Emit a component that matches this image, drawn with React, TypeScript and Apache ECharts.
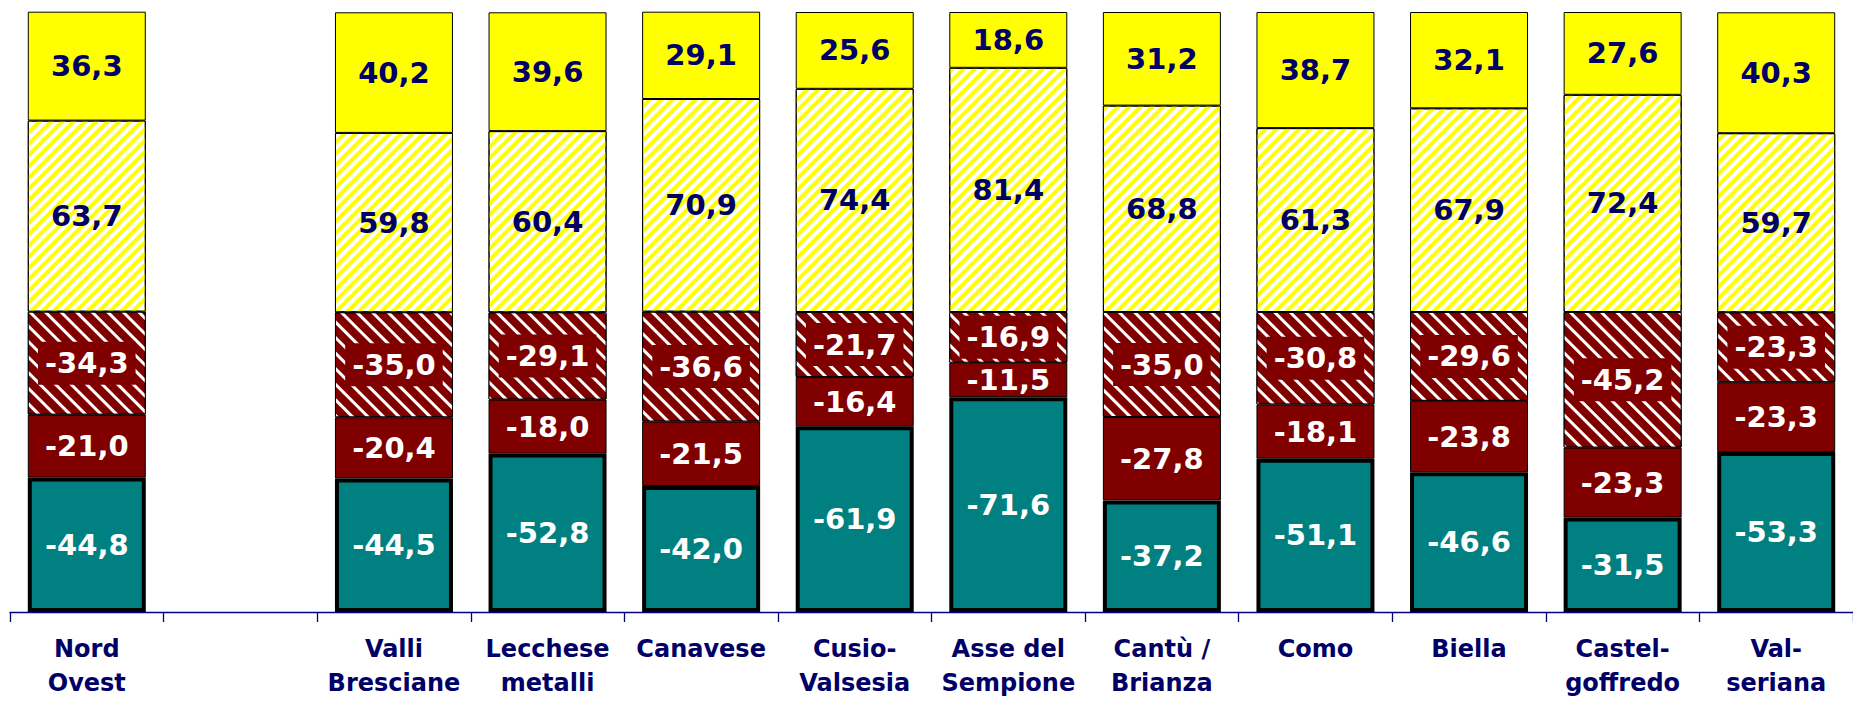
import React, { useEffect, useRef } from "react";
import * as echarts from "echarts";

const categories = [
  "Nord\nOvest", "", "Valli\nBresciane", "Lecchese\nmetalli", "Canavese",
  "Cusio-\nValsesia", "Asse del\nSempione", "Cantù /\nBrianza", "Como",
  "Biella", "Castel-\ngoffredo", "Val-\nseriana",
];

const tealValues = [-44.8, null, -44.5, -52.8, -42.0, -61.9, -71.6, -37.2, -51.1, -46.6, -31.5, -53.3];
const redSolidValues = [-21.0, null, -20.4, -18.0, -21.5, -16.4, -11.5, -27.8, -18.1, -23.8, -23.3, -23.3];
const redHatchValues = [-34.3, null, -35.0, -29.1, -36.6, -21.7, -16.9, -35.0, -30.8, -29.6, -45.2, -23.3];
const yellowHatchValues = [63.7, null, 59.8, 60.4, 70.9, 74.4, 81.4, 68.8, 61.3, 67.9, 72.4, 59.7];
const yellowSolidValues = [36.3, null, 40.2, 39.6, 29.1, 25.6, 18.6, 31.2, 38.7, 32.1, 27.6, 40.3];

const FONT = "DejaVu Sans";
const NAVY = "#000066";

const fmt = (arr: (number | null)[]) => (p: any) => {
  const v = arr[p.dataIndex];
  return v == null ? "" : v.toFixed(1).replace(".", ",");
};

const absData = (arr: (number | null)[]) => arr.map((v) => (v == null ? null : Math.abs(v)));

export default function App() {
  const ref = useRef<HTMLDivElement>(null);
  useEffect(() => {
    if (!ref.current) return;
    const chart = echarts.init(ref.current, null, { renderer: "svg" });
    const baseLabel = {
      show: true,
      position: "inside",
      fontFamily: FONT,
      fontWeight: "bold",
      fontSize: 29,
    };
    chart.setOption({
      animation: false,
      grid: { left: 10, top: 12, width: 1856.4, height: 600 },
      xAxis: {
        type: "category",
        data: categories,
        boundaryGap: true,
        axisLine: { lineStyle: { color: "#000080", width: 1.3 } },
        axisTick: { show: true, length: 10, lineStyle: { color: "#000080", width: 1.3 } },
        axisLabel: {
          interval: 0,
          margin: 20,
          color: NAVY,
          fontFamily: FONT,
          fontWeight: "bold",
          fontSize: 24,
          lineHeight: 34,
        },
      },
      yAxis: { type: "value", min: 0, max: 200, show: false, splitLine: { show: false } },
      series: [
        {
          type: "bar",
          stack: "s",
          barWidth: 118,
          z: 3,
          data: absData(tealValues),
          itemStyle: { color: "#008080", borderColor: "#000000", borderWidth: 4 },
          label: { ...baseLabel, color: "#ffffff", formatter: fmt(tealValues) },
        },
        {
          type: "bar",
          stack: "s",
          barWidth: 118,
          data: absData(redSolidValues),
          itemStyle: { color: "#800000", borderColor: "#000000", borderWidth: 1 },
          label: { ...baseLabel, color: "#ffffff", formatter: fmt(redSolidValues) },
        },
        {
          type: "bar",
          stack: "s",
          barWidth: 118,
          data: absData(redHatchValues),
          itemStyle: {
            color: "#800000",
            borderColor: "#000000",
            borderWidth: 1,
            decal: {
              symbol: "rect",
              symbolSize: 1,
              color: "#ffffff",
              dashArrayX: [1, 0],
              dashArrayY: [3, 8],
              rotation: Math.PI / 4,
            },
          },
          label: {
            ...baseLabel,
            color: "#ffffff",
            backgroundColor: "#800000",
            padding: [8, 7, 6, 7],
            formatter: fmt(redHatchValues),
          },
        },
        {
          type: "bar",
          stack: "s",
          barWidth: 118,
          data: absData(yellowHatchValues),
          itemStyle: {
            color: "#ffffff",
            borderColor: "#000000",
            borderWidth: 1,
            decal: {
              symbol: "rect",
              symbolSize: 1,
              color: "#ffff00",
              dashArrayX: [1, 0],
              dashArrayY: [4, 4],
              rotation: -Math.PI / 4,
            },
          },
          label: { ...baseLabel, color: NAVY, formatter: fmt(yellowHatchValues) },
        },
        {
          type: "bar",
          stack: "s",
          barWidth: 118,
          data: absData(yellowSolidValues),
          itemStyle: { color: "#ffff00", borderColor: "#000000", borderWidth: 1 },
          label: { ...baseLabel, color: NAVY, formatter: fmt(yellowSolidValues) },
        },
      ],
    });
    return () => chart.dispose();
  }, []);
  return (
    <div
      ref={ref}
      style={{ position: "fixed", left: 0, top: 0, width: "1853px", height: "701px", background: "#ffffff" }}
    />
  );
}
